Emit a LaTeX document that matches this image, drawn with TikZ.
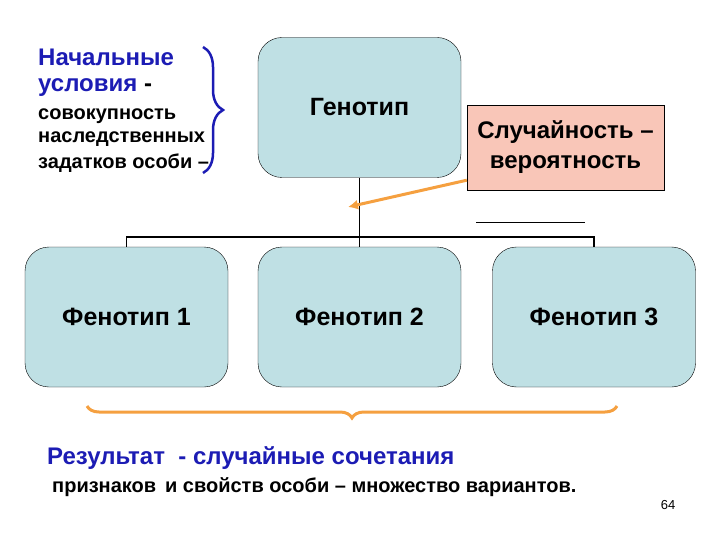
\documentclass[tikz,border=0pt]{standalone}
\usepackage{fontspec}
\setmainfont{Liberation Sans}
\usetikzlibrary{decorations.pathreplacing,arrows.meta}
\definecolor{boxblue}{HTML}{BFE0E4}
\definecolor{boxpink}{HTML}{F9C6B8}
\definecolor{tblue}{HTML}{1C1CB4}
\definecolor{orng}{HTML}{F5A040}
\tikzset{
 bx/.style={draw=black,fill=boxblue,rounded corners=24pt,minimum width=203pt,minimum height=140pt,font=\bfseries\fontsize{25}{30}\selectfont},
 lbl/.style={anchor=west,inner sep=0pt,font=\bfseries\fontsize{20}{24}\selectfont},
 ttl/.style={anchor=west,inner sep=0pt,text=tblue,font=\bfseries\fontsize{24}{28}\selectfont},
 tree/.style={draw=black,line width=1.5pt}
}
\begin{document}
\begin{tikzpicture}[x=1pt,y=-1pt]
\useasboundingbox (0,0) rectangle (720,540);
\node[bx] (g) at (359.5,107.5) {Генотип};
\node[draw=black,fill=boxpink,minimum width=197pt,minimum height=85pt,inner sep=0pt,align=center,font=\bfseries\fontsize{24}{30}\selectfont] (r) at (565.5,147.5) {Случайность –\\вероятность};
\node[bx] (f1) at (126.5,317) {Фенотип 1};
\node[bx] (f2) at (359.5,317) {Фенотип 2};
\node[bx] (f3) at (594,317) {Фенотип 3};
\coordinate (j) at (360,237);
\draw[tree] (g.south) -- (f2.north);
\draw[tree] (f1.north) |- (j) -| (f3.north);
\coordinate (s1) at (476,222); \coordinate (s2) at (585,222);
\draw[black,line width=0.8pt] (s1) -- (s2);
\coordinate (ah) at (348,207);
\draw[orng,line width=3pt,-{Latex[length=10pt,width=10pt]}] (r.south west) ++(0,-10) -- (ah);
\node[ttl] (t1) at (38,57) {Начальные};
\node[ttl] (t2) at (38,88) {условия \textcolor{black}{-}};
\node[lbl] (t3) at (38,116) {совокупность};
\node[lbl] (t4) at (38,139) {наследственных};
\node[lbl] (t5) at (38,163) {задатков особи –};
\coordinate (b1) at (203,47); \coordinate (b2) at (203,173);
\draw[tblue,line width=2.5pt,decorate,decoration={brace,amplitude=20pt}] (b1) -- (b2);
\coordinate (c1) at (617,406); \coordinate (c2) at (87,406);
\draw[orng,line width=3pt,decorate,decoration={brace,amplitude=12pt}] (c1) -- (c2);
\node[ttl] (rt) at (47,458) {Результат \ - случайные сочетания};
\node[lbl] (rt2) at (52,487) {признаков \,и свойств особи – множество вариантов.};
\node[font=\fontsize{13}{15}\selectfont] (pg) at (668,505) {64};
\end{tikzpicture}
\end{document}
